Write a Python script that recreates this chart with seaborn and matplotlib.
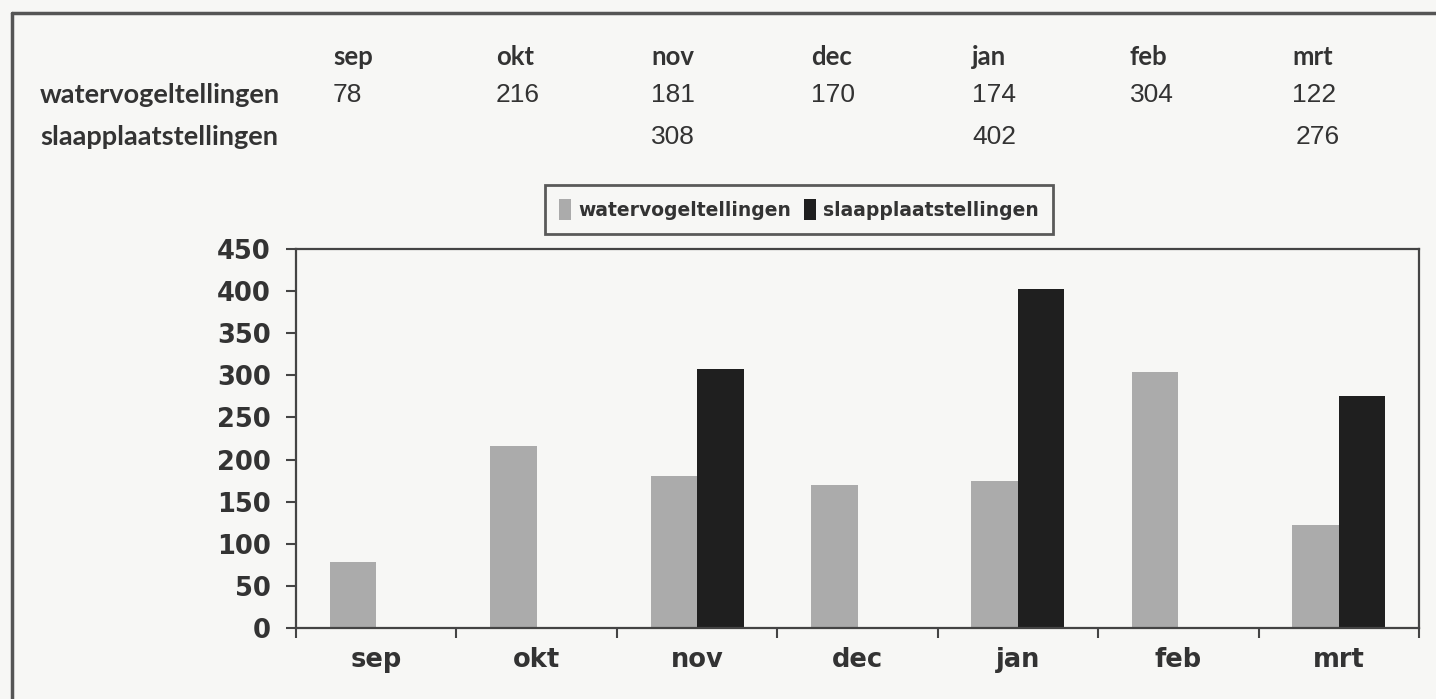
import seaborn as sns
import matplotlib.pyplot as plt
import pandas as pd
from matplotlib.lines import Line2D
from matplotlib.patches import Patch
from matplotlib.ticker import FixedLocator

sns.set_theme(style="white")
plt.rcParams['font.family'] = ['DejaVu Sans']

maanden = ['sep', 'okt', 'nov', 'dec', 'jan', 'feb', 'mrt']
watervogeltellingen = [78, 216, 181, 170, 174, 304, 122]
slaapplaatstellingen = [None, None, 308, None, 402, None, 276]
reeksen = ['watervogeltellingen', 'slaapplaatstellingen']

bg = '#f7f7f5'
ink = '#333333'
kleuren = {'watervogeltellingen': '#ababab', 'slaapplaatstellingen': '#1f1f1f'}

rows = []
for m, w, s in zip(maanden, watervogeltellingen, slaapplaatstellingen):
    rows.append({'maand': m, 'telling': reeksen[0], 'aantal': w})
    rows.append({'maand': m, 'telling': reeksen[1], 'aantal': s})
df = pd.DataFrame(rows).dropna()

fig = plt.figure(figsize=(14.36, 6.99), dpi=100, facecolor=bg)
ax = fig.add_axes([0.2061, 0.1016, 0.7821, 0.5422], facecolor=bg)

sns.barplot(data=df, x='maand', y='aantal', hue='telling', order=maanden,
            hue_order=reeksen, palette=kleuren, width=0.58, errorbar=None,
            saturation=1, linewidth=0, ax=ax, legend=False)

ax.set_xlim(-0.5, 6.5)
ax.set_ylim(0, 450)
ax.set_yticks(range(0, 451, 50))
ax.set_xlabel('')
ax.set_ylabel('')
for side in ['left', 'bottom', 'top', 'right']:
    ax.spines[side].set_visible(True)
    ax.spines[side].set_color('#444444')
    ax.spines[side].set_linewidth(1.6)

ax.tick_params(axis='y', which='major', direction='out', length=7, width=1.5,
               color='#444444', left=True, pad=11, labelsize=18.5, labelcolor=ink)
for lab in ax.get_yticklabels():
    lab.set_fontweight('bold')
ax.xaxis.set_minor_locator(FixedLocator([i - 0.5 for i in range(len(maanden) + 1)]))
ax.tick_params(axis='x', which='major', length=0, pad=14, labelsize=18.5, labelcolor=ink)
ax.tick_params(axis='x', which='minor', direction='out', length=7, width=1.5,
               color='#444444', bottom=True)
for lab in ax.get_xticklabels():
    lab.set_fontweight('bold')

# legend
handles = [Patch(facecolor=kleuren[r], edgecolor='none') for r in reeksen]
leg = fig.legend(handles, reeksen, loc='center', bbox_to_anchor=(0.5564, 0.7003),
                 ncol=2, frameon=True, fancybox=False,
                 handlelength=0.65, handleheight=1.3, handletextpad=0.4,
                 columnspacing=0.65, borderpad=0.75, borderaxespad=0,
                 prop={'weight': 'bold', 'size': 13.5})
leg.get_frame().set_edgecolor('#333333')
leg.get_frame().set_linewidth(2)
leg.get_frame().set_facecolor(bg)
for t in leg.get_texts():
    t.set_color(ink)

# table above the chart
W, H = 1436, 699
kol_x = [333, 496, 651, 811, 972, 1130, 1292]
tabel_font = ['Lato', 'DejaVu Sans']
num_font = ['Liberation Sans', 'DejaVu Sans']
for x, m in zip(kol_x, maanden):
    fig.text(x / W, 1 - 57 / H, m, ha='left', va='center', fontsize=18.5,
             fontweight='bold', color=ink, family=tabel_font)
fig.text(40 / W, 1 - 95 / H, reeksen[0], ha='left', va='center', fontsize=19.5,
         fontweight='bold', color=ink, family=tabel_font)
fig.text(40 / W, 1 - 137 / H, reeksen[1], ha='left', va='center', fontsize=19.5,
         fontweight='bold', color=ink, family=tabel_font)
for x, v in zip(kol_x, watervogeltellingen):
    fig.text(x / W, 1 - 95 / H, str(v), ha='left', va='center', fontsize=19,
             color=ink, family=num_font)
for x, v in zip(kol_x, slaapplaatstellingen):
    if v is not None:
        fig.text((x + (4 if v == 276 else 0)) / W, 1 - 137 / H, str(v), ha='left',
                 va='center', fontsize=19, color=ink, family=num_font)

# outer frame (left and top edge)
fig.add_artist(Line2D([12 / W, 12 / W], [0, 1 - 13 / H], transform=fig.transFigure,
                      color='#555555', linewidth=2.5))
fig.add_artist(Line2D([12 / W, 1], [1 - 13 / H, 1 - 13 / H], transform=fig.transFigure,
                      color='#555555', linewidth=2.5))

fig.savefig('out.png', dpi=100, facecolor=bg)
